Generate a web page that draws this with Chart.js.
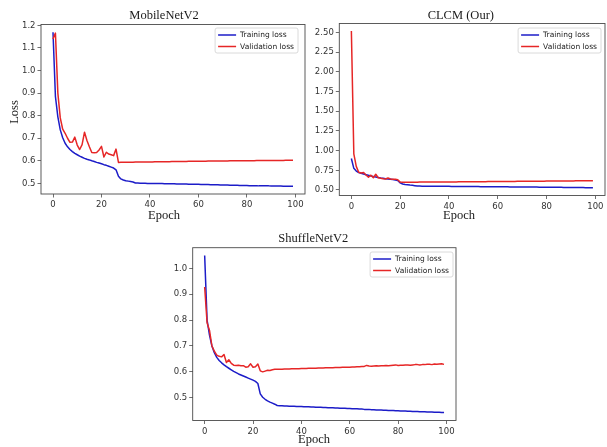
<!DOCTYPE html>
<html>
<head>
<meta charset="utf-8">
<script src="https://cdn.jsdelivr.net/npm/chart.js@4.4.0/dist/chart.umd.min.js"></script>
<style>
  html, body { margin: 0; padding: 0; background: #fff; }
  #fig { position: relative; width: 607px; height: 447px; overflow: hidden; background: #fff; }
  .panel { position: absolute; }
</style>
</head>
<body>
<div id="fig">
  <div class="panel" id="p1" style="left:0px;top:0px;width:310px;height:225px"><canvas id="c1"></canvas></div>
  <div class="panel" id="p2" style="left:305px;top:0px;width:302px;height:225px"><canvas id="c2"></canvas></div>
  <div class="panel" id="p3" style="left:150px;top:225px;width:320px;height:222px"><canvas id="c3"></canvas></div>
</div>
<script>
// ---- data ----
const epochs = Array.from({ length: 100 }, (_, i) => i);
const xTicks = [0, 20, 40, 60, 80, 100];
const seriesNames = ['Training loss', 'Validation loss'];

const mobileTitle = 'MobileNetV2';
const mobileTrain = [
  1.170, 0.885, 0.795, 0.737, 0.702, 0.678, 0.662, 0.650, 0.641, 0.633,
  0.627, 0.621, 0.616, 0.611, 0.607, 0.604, 0.600, 0.597, 0.593, 0.590,
  0.587, 0.583, 0.580, 0.576, 0.572, 0.568, 0.560, 0.532, 0.520, 0.515,
  0.512, 0.510, 0.508, 0.506, 0.502, 0.502, 0.501, 0.501, 0.501, 0.500,
  0.500, 0.500, 0.499, 0.499, 0.499, 0.499, 0.498, 0.498, 0.498, 0.498,
  0.498, 0.497, 0.497, 0.497, 0.497, 0.497, 0.496, 0.496, 0.496, 0.496,
  0.496, 0.495, 0.495, 0.495, 0.495, 0.494, 0.494, 0.494, 0.494, 0.493,
  0.493, 0.493, 0.493, 0.492, 0.492, 0.492, 0.492, 0.491, 0.491, 0.491,
  0.491, 0.490, 0.490, 0.490, 0.490, 0.489, 0.489, 0.489, 0.489, 0.489,
  0.488, 0.488, 0.488, 0.488, 0.488, 0.487, 0.487, 0.487, 0.487, 0.487
];
const mobileVal = [
  1.140, 1.166, 0.900, 0.790, 0.740, 0.722, 0.700, 0.682, 0.683, 0.705,
  0.670, 0.650, 0.672, 0.727, 0.690, 0.662, 0.637, 0.636, 0.637, 0.648,
  0.664, 0.617, 0.638, 0.630, 0.627, 0.623, 0.652, 0.593, 0.594, 0.594,
  0.594, 0.594, 0.594, 0.594, 0.595, 0.595, 0.595, 0.595, 0.595, 0.595,
  0.595, 0.595, 0.596, 0.596, 0.596, 0.596, 0.596, 0.596, 0.596, 0.597,
  0.597, 0.597, 0.597, 0.597, 0.597, 0.597, 0.598, 0.598, 0.598, 0.598,
  0.598, 0.598, 0.598, 0.598, 0.599, 0.599, 0.599, 0.599, 0.599, 0.599,
  0.599, 0.599, 0.599, 0.600, 0.600, 0.600, 0.600, 0.600, 0.600, 0.600,
  0.600, 0.600, 0.600, 0.600, 0.601, 0.601, 0.601, 0.601, 0.601, 0.601,
  0.601, 0.601, 0.601, 0.601, 0.601, 0.601, 0.602, 0.602, 0.602, 0.602
];
const mobileYTicks = [0.5, 0.6, 0.7, 0.8, 0.9, 1.0, 1.1, 1.2];

const clcmTitle = 'CLCM (Our)';
const clcmTrain = [
  0.900, 0.775, 0.740, 0.722, 0.712, 0.702, 0.694, 0.686, 0.679, 0.672,
  0.666, 0.660, 0.654, 0.649, 0.644, 0.640, 0.636, 0.632, 0.628, 0.620,
  0.590, 0.576, 0.570, 0.566, 0.562, 0.559, 0.555, 0.551, 0.550, 0.549,
  0.549, 0.548, 0.548, 0.548, 0.547, 0.547, 0.547, 0.546, 0.546, 0.546,
  0.546, 0.545, 0.545, 0.545, 0.545, 0.544, 0.544, 0.544, 0.544, 0.543,
  0.543, 0.543, 0.543, 0.542, 0.542, 0.542, 0.542, 0.541, 0.541, 0.541,
  0.541, 0.540, 0.540, 0.540, 0.540, 0.539, 0.539, 0.539, 0.539, 0.538,
  0.538, 0.538, 0.538, 0.537, 0.537, 0.537, 0.537, 0.536, 0.536, 0.536,
  0.536, 0.535, 0.535, 0.535, 0.534, 0.534, 0.534, 0.533, 0.533, 0.533,
  0.532, 0.532, 0.532, 0.531, 0.531, 0.531, 0.530, 0.530, 0.530, 0.530
];
const clcmVal = [
  2.520, 0.960, 0.800, 0.725, 0.715, 0.722, 0.690, 0.662, 0.688, 0.655,
  0.700, 0.655, 0.648, 0.642, 0.640, 0.652, 0.640, 0.636, 0.638, 0.630,
  0.600, 0.597, 0.598, 0.598, 0.598, 0.599, 0.599, 0.599, 0.600, 0.600,
  0.600, 0.600, 0.601, 0.601, 0.601, 0.601, 0.602, 0.602, 0.602, 0.602,
  0.603, 0.603, 0.603, 0.603, 0.604, 0.604, 0.604, 0.604, 0.605, 0.605,
  0.605, 0.605, 0.606, 0.606, 0.606, 0.606, 0.607, 0.607, 0.607, 0.607,
  0.608, 0.608, 0.608, 0.608, 0.609, 0.609, 0.609, 0.609, 0.610, 0.610,
  0.610, 0.610, 0.611, 0.611, 0.611, 0.611, 0.612, 0.612, 0.612, 0.612,
  0.613, 0.613, 0.613, 0.613, 0.614, 0.614, 0.614, 0.614, 0.615, 0.615,
  0.615, 0.615, 0.616, 0.616, 0.616, 0.616, 0.617, 0.617, 0.617, 0.617
];
const clcmYTicks = [0.50, 0.75, 1.00, 1.25, 1.50, 1.75, 2.00, 2.25, 2.50];

const shuffleTitle = 'ShuffleNetV2';
const shuffleTrain = [
  1.050, 0.800, 0.742, 0.700, 0.674, 0.656, 0.644, 0.635, 0.627, 0.620,
  0.614, 0.608, 0.602, 0.597, 0.592, 0.588, 0.584, 0.580, 0.576, 0.572,
  0.568, 0.563, 0.555, 0.515, 0.502, 0.494, 0.488, 0.483, 0.479, 0.475,
  0.470, 0.469, 0.469, 0.468, 0.468, 0.467, 0.467, 0.467, 0.466, 0.466,
  0.466, 0.465, 0.465, 0.465, 0.464, 0.464, 0.463, 0.463, 0.463, 0.462,
  0.462, 0.461, 0.461, 0.461, 0.460, 0.460, 0.459, 0.459, 0.459, 0.458,
  0.458, 0.457, 0.457, 0.457, 0.456, 0.456, 0.455, 0.455, 0.455, 0.454,
  0.454, 0.453, 0.453, 0.453, 0.452, 0.452, 0.451, 0.451, 0.451, 0.450,
  0.450, 0.449, 0.449, 0.449, 0.448, 0.448, 0.447, 0.447, 0.447, 0.446,
  0.446, 0.446, 0.445, 0.445, 0.445, 0.444, 0.444, 0.444, 0.443, 0.443
];
const shuffleVal = [
  0.928, 0.790, 0.760, 0.700, 0.680, 0.665, 0.660, 0.658, 0.667, 0.636,
  0.647, 0.633, 0.626, 0.625, 0.626, 0.624, 0.624, 0.618, 0.620, 0.631,
  0.618, 0.620, 0.630, 0.604, 0.600, 0.603, 0.606, 0.605, 0.608, 0.610,
  0.610, 0.610, 0.610, 0.611, 0.611, 0.611, 0.612, 0.612, 0.612, 0.612,
  0.613, 0.613, 0.613, 0.614, 0.614, 0.614, 0.614, 0.615, 0.615, 0.615,
  0.616, 0.616, 0.616, 0.616, 0.617, 0.617, 0.617, 0.618, 0.618, 0.618,
  0.618, 0.619, 0.619, 0.620, 0.620, 0.621, 0.621, 0.625, 0.623, 0.622,
  0.623, 0.624, 0.623, 0.624, 0.624, 0.625, 0.624, 0.625, 0.626, 0.627,
  0.625, 0.626, 0.626, 0.627, 0.627, 0.626, 0.627, 0.628, 0.628, 0.627,
  0.628, 0.628, 0.629, 0.629, 0.628, 0.630, 0.629, 0.630, 0.631, 0.629
];
const shuffleYTicks = [0.5, 0.6, 0.7, 0.8, 0.9, 1.0];

// ---- styling ----
const BLUE = '#1c1cc8';
const RED = '#e62626';
const TICK_FONT = { family: '"DejaVu Sans", sans-serif', size: 8.5 };
const SERIF = '"Liberation Serif", "Times New Roman", serif';
const INK = '#333';
const SPINE = '#4a4a4a';

// Full box around the plot area, like axes spines
const frame = {
  id: 'frame',
  afterDatasetsDraw(chart) {
    const { ctx, chartArea: a } = chart;
    ctx.save();
    ctx.strokeStyle = SPINE;
    ctx.lineWidth = 0.9;
    ctx.strokeRect(a.left, a.top, a.right - a.left, a.bottom - a.top);
    ctx.restore();
  }
};

// Legend box drawn in the upper-right corner of the plot area
const insetLegend = {
  id: 'insetLegend',
  afterDraw(chart, args, opts) {
    const { ctx } = chart;
    const ox = opts.origin[0], oy = opts.origin[1];
    ctx.save();
    ctx.font = '7.5px "DejaVu Sans", sans-serif';
    const labels = chart.data.datasets.map(d => d.label);
    const textW = Math.max(...labels.map(t => ctx.measureText(t).width));
    const w = 3 + 18 + 4 + textW + 4;
    const h = 25;
    const x = opts.right - ox - w;
    const y = opts.top - oy;
    ctx.fillStyle = 'rgba(255,255,255,0.85)';
    ctx.strokeStyle = '#d0d0d0';
    ctx.lineWidth = 0.8;
    ctx.beginPath();
    ctx.roundRect(x, y, w, h, 2);
    ctx.fill();
    ctx.stroke();
    chart.data.datasets.forEach((d, i) => {
      const ry = y + 7 + i * 11.5;
      ctx.strokeStyle = d.borderColor;
      ctx.lineWidth = 1.5;
      ctx.beginPath();
      ctx.moveTo(x + 3, ry);
      ctx.lineTo(x + 21, ry);
      ctx.stroke();
      ctx.fillStyle = '#222';
      ctx.textBaseline = 'middle';
      ctx.textAlign = 'left';
      ctx.fillText(d.label, x + 25, ry + 0.5);
    });
    ctx.restore();
  }
};

// Title and axis captions in a serif face
const captions = {
  id: 'captions',
  afterDraw(chart, args, opts) {
    const { ctx } = chart;
    const ox = opts.origin[0], oy = opts.origin[1];
    ctx.save();
    ctx.fillStyle = '#1a1a1a';
    ctx.textAlign = 'center';
    ctx.textBaseline = 'alphabetic';
    opts.items.forEach(it => {
      ctx.font = it.size + 'px ' + SERIF;
      ctx.save();
      ctx.translate(it.x - ox, it.y - oy);
      if (it.rotate) ctx.rotate(it.rotate);
      ctx.fillText(it.text, 0, 0);
      ctx.restore();
    });
    ctx.restore();
  }
};

function makeChart(canvasId, cfg) {
  const datasets = [
    { label: seriesNames[0], data: cfg.train, borderColor: BLUE, order: 1 },
    { label: seriesNames[1], data: cfg.val, borderColor: RED, order: 0 }
  ].map(d => Object.assign(d, {
    borderWidth: 1.5, pointRadius: 0, tension: 0, fill: false,
    borderJoinStyle: 'round', backgroundColor: d.borderColor
  }));

  const axisCommon = {
    type: 'linear',
    grid: { drawOnChartArea: false, drawTicks: true, tickLength: 3.5, color: SPINE, lineWidth: 0.8 },
    border: { display: false },
    ticks: { font: TICK_FONT, color: INK, autoSkip: false, maxRotation: 0 }
  };

  return new Chart(document.getElementById(canvasId), {
    type: 'line',
    data: { labels: epochs, datasets },
    options: {
      responsive: true,
      maintainAspectRatio: false,
      animation: false,
      devicePixelRatio: 1,
      events: [],
      layout: { padding: cfg.padding },
      plugins: {
        legend: { display: false },
        title: { display: false },
        tooltip: { enabled: false },
        insetLegend: { origin: cfg.origin, right: cfg.legendRight, top: cfg.legendTop },
        captions: { origin: cfg.origin, items: cfg.captions }
      },
      scales: {
        x: Object.assign({}, axisCommon, {
          min: -4.95, max: 103.95,
          afterBuildTicks: s => { s.ticks = xTicks.map(v => ({ value: v })); },
          afterFit: s => { s.height = 20; },
          ticks: Object.assign({}, axisCommon.ticks, { padding: 2.5, callback: v => String(v) })
        }),
        y: Object.assign({}, axisCommon, {
          min: cfg.yMin, max: cfg.yMax,
          afterBuildTicks: s => { s.ticks = cfg.yTicks.map(v => ({ value: v })); },
          afterFit: s => { s.width = cfg.yWidth; },
          ticks: Object.assign({}, axisCommon.ticks, { padding: 2, callback: v => v.toFixed(cfg.decimals) })
        })
      }
    },
    plugins: [frame, insetLegend, captions]
  });
}

makeChart('c1', {
  train: mobileTrain, val: mobileVal, yTicks: mobileYTicks, decimals: 1,
  yMin: 0.453, yMax: 1.204, yWidth: 41,
  origin: [0, 0],
  padding: { left: 0, top: 24.5, right: 5, bottom: 11 },
  legendRight: 298, legendTop: 28,
  captions: [
    { text: mobileTitle, x: 164, y: 19, size: 12.5 },
    { text: 'Epoch', x: 164, y: 219, size: 12.5 },
    { text: 'Loss', x: 17.5, y: 112, size: 12.5, rotate: -Math.PI / 2 }
  ]
});

makeChart('c2', {
  train: clcmTrain, val: clcmVal, yTicks: clcmYTicks, decimals: 2,
  yMin: 0.43, yMax: 2.615, yWidth: 34.3,
  origin: [305, 0],
  padding: { left: 0, top: 23.5, right: 2, bottom: 9.5 },
  legendRight: 601, legendTop: 28,
  captions: [
    { text: clcmTitle, x: 460.8, y: 19, size: 12.5 },
    { text: 'Epoch', x: 459, y: 219, size: 12.5 }
  ]
});

makeChart('c3', {
  train: shuffleTrain, val: shuffleVal, yTicks: shuffleYTicks, decimals: 1,
  yMin: 0.412, yMax: 1.08, yWidth: 42.7,
  origin: [150, 225],
  padding: { left: 0, top: 22.7, right: 14, bottom: 6.5 },
  legendRight: 453, legendTop: 252,
  captions: [
    { text: shuffleTitle, x: 313.3, y: 242, size: 12.5 },
    { text: 'Epoch', x: 314, y: 443, size: 12.5 }
  ]
});
</script>
</body>
</html>
